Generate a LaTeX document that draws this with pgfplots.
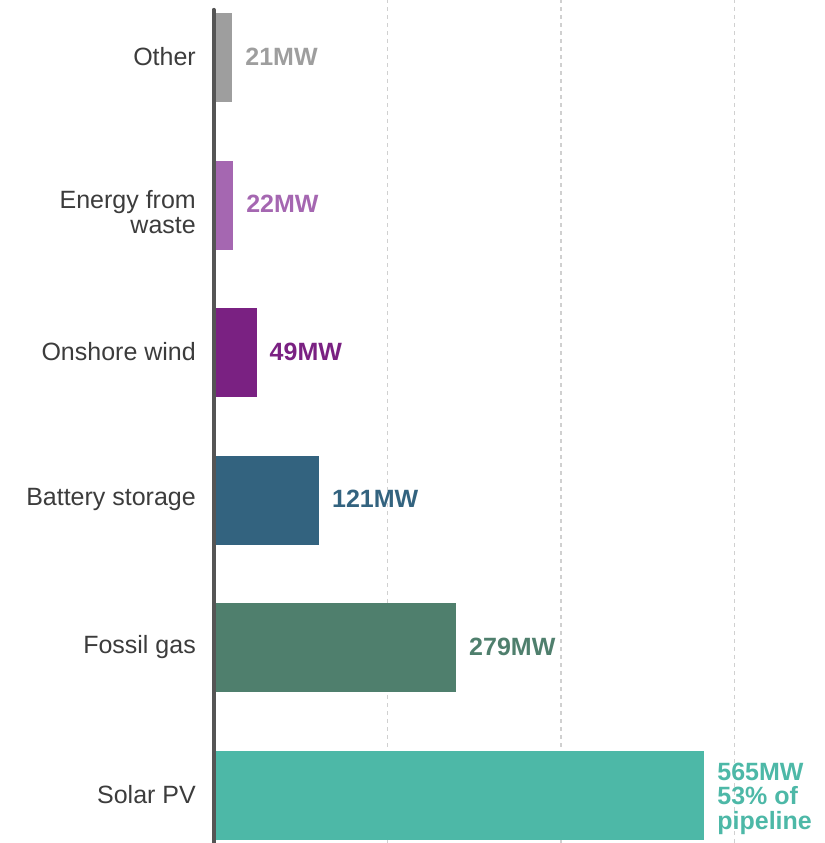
\documentclass[border=0pt]{standalone}
\usepackage{pgfplots}
\pgfplotsset{compat=1.18}
\usepackage{fontspec}
\setmainfont{Liberation Sans}
\definecolor{cOther}{HTML}{9E9E9E}
\definecolor{cWaste}{HTML}{A567B1}
\definecolor{cWind}{HTML}{7A2182}
\definecolor{cBatt}{HTML}{33637F}
\definecolor{cGas}{HTML}{4F7F6D}
\definecolor{cSolar}{HTML}{4DB8A7}
\definecolor{cText}{HTML}{3C3C3C}
\definecolor{cAxis}{HTML}{555555}
\definecolor{cGrid}{HTML}{D0D0D0}
\begin{document}
\begin{tikzpicture}
\begin{axis}[
  scale only axis,
  width=611pt, height=843pt,
  xmin=0, xmax=704.3,
  ymin=-0.3218, ymax=5.389,
  clip=false,
  xbar, bar width=89pt, bar shift=0pt,
  axis line style={draw=none},
  xtick={200,400,600}, xticklabels={},
  xmajorgrids,
  grid style={cGrid, line width=1.3pt, dash pattern=on 4pt off 4pt},
  major tick length=0pt,
  ytick={0,1,2,3,4,5},
  yticklabels={Solar PV,Fossil gas,Battery storage,Onshore wind,{\rule{0pt}{34pt}Energy from\\waste},Other},
  yticklabel style={font=\fontsize{25}{25}\selectfont, text=cText, align=right, anchor=east, inner sep=0pt, xshift=-18pt, yshift=1pt},
  nodes near coords,
  point meta=explicit symbolic,
  every node near coord/.append style={anchor=west, inner sep=0pt, xshift=13pt, yshift=1pt, align=left, font=\fontsize{25}{24.5}\selectfont\bfseries},
]
\addplot[fill=cOther, draw=none, every node near coord/.append style={text=cOther}] coordinates {(21,5) [21MW]};
\addplot[fill=cWaste, draw=none, every node near coord/.append style={text=cWaste}] coordinates {(22,4) [22MW]};
\addplot[fill=cWind, draw=none, every node near coord/.append style={text=cWind}] coordinates {(49,3) [49MW]};
\addplot[fill=cBatt, draw=none, every node near coord/.append style={text=cBatt}] coordinates {(121,2) [121MW]};
\addplot[fill=cGas, draw=none, every node near coord/.append style={text=cGas}] coordinates {(279,1) [279MW]};
\addplot[fill=cSolar, draw=none, every node near coord/.append style={text=cSolar, yshift=-4pt}] coordinates {(565,0) [{565MW\\53\% of\\pipeline}]};
\draw[cAxis, line width=4pt, line cap=round] (axis cs:-0.5,5.322) -- (axis cs:-0.5,-0.3218);
\end{axis}
\pgfresetboundingbox
\useasboundingbox ([xshift=-214pt]current axis.south west) rectangle (current axis.north east);
\end{tikzpicture}
\end{document}
